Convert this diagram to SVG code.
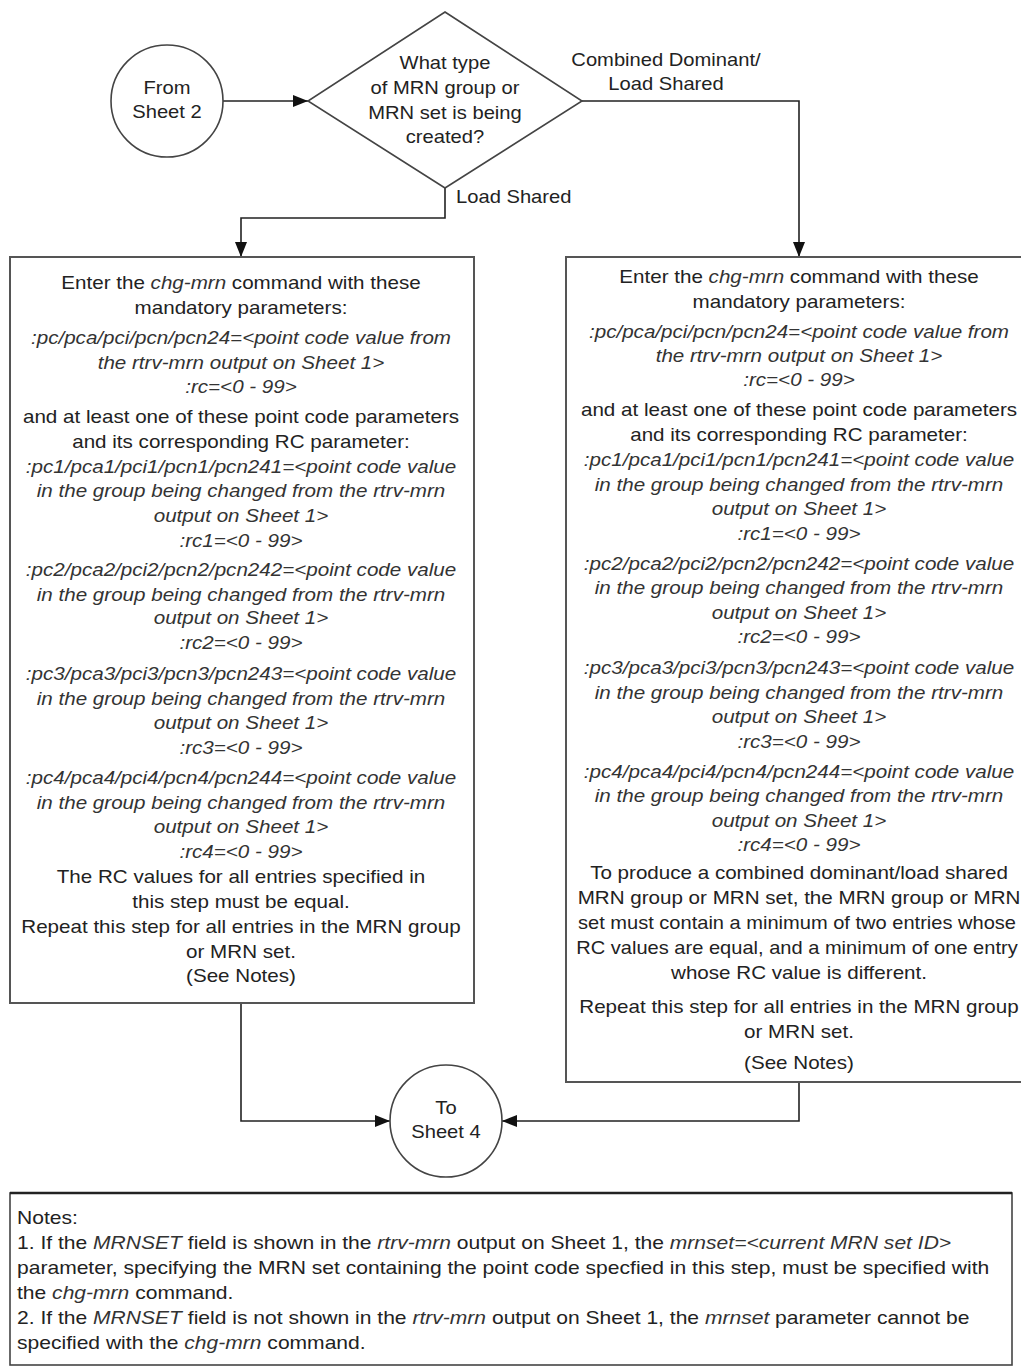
<svg xmlns="http://www.w3.org/2000/svg" width="1021" height="1370" viewBox="0 0 1021 1370">
<style>
.t{font-family:"Liberation Sans",Arial,sans-serif;font-size:18px;fill:#222;text-anchor:middle}
.n{text-anchor:start}
.i{font-style:italic;fill:#333}
.shape{fill:#fff;stroke:#444;stroke-width:1.6}
.box{fill:#fff;stroke:#555;stroke-width:2}
.c{fill:none;stroke:#222;stroke-width:1.6}
</style>
<defs>
<marker id="ah" markerUnits="userSpaceOnUse" markerWidth="15" markerHeight="12" refX="15" refY="6" orient="auto">
<path d="M0,0 L15,6 L0,12 z" fill="#111"/>
</marker>
</defs>
<rect width="1021" height="1370" fill="#fff"/>

<g id="connectors">
<path class="c" d="M223,101 L308,101" marker-end="url(#ah)"/>
<path class="c" d="M582,101 L799,101 L799,257" marker-end="url(#ah)"/>
<path class="c" d="M445,188 L445,218 L241,218 L241,257" marker-end="url(#ah)"/>
<path class="c" d="M241,1003 L241,1121 L390,1121" marker-end="url(#ah)"/>
<path class="c" d="M799,1082 L799,1121 L502,1121" marker-end="url(#ah)"/>
</g>

<g id="from-sheet-2">
<circle class="shape" cx="167" cy="101" r="56"/>
<g transform="translate(167 0) scale(1.12 1)">
<text class="t" x="0" y="94">From</text>
<text class="t" x="0" y="118">Sheet 2</text>
</g>
</g>

<g id="decision">
<path class="shape" d="M445,12 L582,101 L445,188 L308,101 Z"/>
<g transform="translate(445 0) scale(1.12 1)">
<text class="t" x="0" y="69">What type</text>
<text class="t" x="0" y="94">of MRN group or</text>
<text class="t" x="0" y="119">MRN set is being</text>
<text class="t" x="0" y="143">created?</text>
</g>
</g>

<g id="label-combined">
<g transform="translate(666 0) scale(1.12 1)">
<text class="t" x="0" y="66">Combined Dominant/</text>
<text class="t" x="0" y="90">Load Shared</text>
</g>
</g>
<g id="label-load-shared">
<g transform="translate(456 0) scale(1.12 1)">
<text class="t n" x="0" y="203">Load Shared</text>
</g>
</g>

<g id="left-box">
<rect class="box" x="10" y="257" width="464" height="746"/>
<g transform="translate(241 0) scale(1.145 1)">
<text class="t" x="0" y="289">Enter the <tspan class="i">chg-mrn</tspan> command with these</text>
<text class="t" x="0" y="314">mandatory parameters:</text>
<text class="t i" x="0" y="344">:pc/pca/pci/pcn/pcn24=&lt;point code value from</text>
<text class="t i" x="0" y="369">the rtrv-mrn output on Sheet 1&gt;</text>
<text class="t i" x="0" y="393">:rc=&lt;0 - 99&gt;</text>
<text class="t" x="0" y="423">and at least one of these point code parameters</text>
<text class="t" x="0" y="448">and its corresponding RC parameter:</text>
<text class="t i" x="0" y="473">:pc1/pca1/pci1/pcn1/pcn241=&lt;point code value</text>
<text class="t i" x="0" y="497">in the group being changed from the rtrv-mrn</text>
<text class="t i" x="0" y="522">output on Sheet 1&gt;</text>
<text class="t i" x="0" y="547">:rc1=&lt;0 - 99&gt;</text>
<text class="t i" x="0" y="576">:pc2/pca2/pci2/pcn2/pcn242=&lt;point code value</text>
<text class="t i" x="0" y="601">in the group being changed from the rtrv-mrn</text>
<text class="t i" x="0" y="624">output on Sheet 1&gt;</text>
<text class="t i" x="0" y="649">:rc2=&lt;0 - 99&gt;</text>
<text class="t i" x="0" y="680">:pc3/pca3/pci3/pcn3/pcn243=&lt;point code value</text>
<text class="t i" x="0" y="705">in the group being changed from the rtrv-mrn</text>
<text class="t i" x="0" y="729">output on Sheet 1&gt;</text>
<text class="t i" x="0" y="754">:rc3=&lt;0 - 99&gt;</text>
<text class="t i" x="0" y="784">:pc4/pca4/pci4/pcn4/pcn244=&lt;point code value</text>
<text class="t i" x="0" y="809">in the group being changed from the rtrv-mrn</text>
<text class="t i" x="0" y="833">output on Sheet 1&gt;</text>
<text class="t i" x="0" y="858">:rc4=&lt;0 - 99&gt;</text>
<text class="t" x="0" y="883">The RC values for all entries specified in</text>
<text class="t" x="0" y="908">this step must be equal.</text>
<text class="t" x="0" y="933">Repeat this step for all entries in the MRN group</text>
<text class="t" x="0" y="958">or MRN set.</text>
<text class="t" x="0" y="982">(See Notes)</text>
</g>
</g>

<g id="right-box">
<rect class="box" x="566" y="257" width="466" height="825"/>
<g transform="translate(799 0) scale(1.145 1)">
<text class="t" x="0" y="283">Enter the <tspan class="i">chg-mrn</tspan> command with these</text>
<text class="t" x="0" y="308">mandatory parameters:</text>
<text class="t i" x="0" y="338">:pc/pca/pci/pcn/pcn24=&lt;point code value from</text>
<text class="t i" x="0" y="362">the rtrv-mrn output on Sheet 1&gt;</text>
<text class="t i" x="0" y="386">:rc=&lt;0 - 99&gt;</text>
<text class="t" x="0" y="416">and at least one of these point code parameters</text>
<text class="t" x="0" y="441">and its corresponding RC parameter:</text>
<text class="t i" x="0" y="466">:pc1/pca1/pci1/pcn1/pcn241=&lt;point code value</text>
<text class="t i" x="0" y="491">in the group being changed from the rtrv-mrn</text>
<text class="t i" x="0" y="515">output on Sheet 1&gt;</text>
<text class="t i" x="0" y="540">:rc1=&lt;0 - 99&gt;</text>
<text class="t i" x="0" y="570">:pc2/pca2/pci2/pcn2/pcn242=&lt;point code value</text>
<text class="t i" x="0" y="594">in the group being changed from the rtrv-mrn</text>
<text class="t i" x="0" y="619">output on Sheet 1&gt;</text>
<text class="t i" x="0" y="643">:rc2=&lt;0 - 99&gt;</text>
<text class="t i" x="0" y="674">:pc3/pca3/pci3/pcn3/pcn243=&lt;point code value</text>
<text class="t i" x="0" y="699">in the group being changed from the rtrv-mrn</text>
<text class="t i" x="0" y="723">output on Sheet 1&gt;</text>
<text class="t i" x="0" y="748">:rc3=&lt;0 - 99&gt;</text>
<text class="t i" x="0" y="778">:pc4/pca4/pci4/pcn4/pcn244=&lt;point code value</text>
<text class="t i" x="0" y="802">in the group being changed from the rtrv-mrn</text>
<text class="t i" x="0" y="827">output on Sheet 1&gt;</text>
<text class="t i" x="0" y="851">:rc4=&lt;0 - 99&gt;</text>
<text class="t" x="0" y="879">To produce a combined dominant/load shared</text>
<text class="t" x="0" y="904">MRN group or MRN set, the MRN group or MRN</text>
<text class="t" x="0" y="1013">Repeat this step for all entries in the MRN group</text>
<text class="t" x="0" y="1038">or MRN set.</text>
<text class="t" x="0" y="1069">(See Notes)</text>
</g>
<g transform="translate(797 0) scale(1.115 1)">
<text class="t" x="0" y="929">set must contain a minimum of two entries whose</text>
<text class="t" x="0" y="954">RC values are equal, and a minimum of one entry</text>
</g>
<g transform="translate(799 0) scale(1.145 1)">
<text class="t" x="0" y="979">whose RC value is different.</text>
</g>
</g>

<g id="to-sheet-4">
<circle class="shape" cx="446" cy="1121" r="56"/>
<g transform="translate(446 0) scale(1.12 1)">
<text class="t" x="0" y="1114">To</text>
<text class="t" x="0" y="1138">Sheet 4</text>
</g>
</g>

<g id="notes">
<rect x="10" y="1193" width="1002" height="172" fill="#fff" stroke="#444" stroke-width="1.6"/>
<line x1="10" y1="1193" x2="1012" y2="1193" stroke="#222" stroke-width="2.5"/>
<g transform="translate(17 0) scale(1.17 1)">
<text class="t n" x="0" y="1224">Notes:</text>
<text class="t n" x="0" y="1249">1.  If the <tspan class="i">MRNSET</tspan> field is shown in the <tspan class="i">rtrv-mrn</tspan> output on Sheet 1, the <tspan class="i">mrnset=&lt;current MRN set ID&gt;</tspan></text>
<text class="t n" x="0" y="1274">parameter, specifying the MRN set containing the point code specfied in this step, must be specified with</text>
<text class="t n" x="0" y="1299">the <tspan class="i">chg-mrn</tspan> command.</text>
<text class="t n" x="0" y="1324">2. If the <tspan class="i">MRNSET</tspan> field is not shown in the <tspan class="i">rtrv-mrn</tspan> output on Sheet 1, the <tspan class="i">mrnset</tspan> parameter cannot be</text>
<text class="t n" x="0" y="1349">specified with the <tspan class="i">chg-mrn</tspan> command.</text>
</g>
</g>
</svg>
